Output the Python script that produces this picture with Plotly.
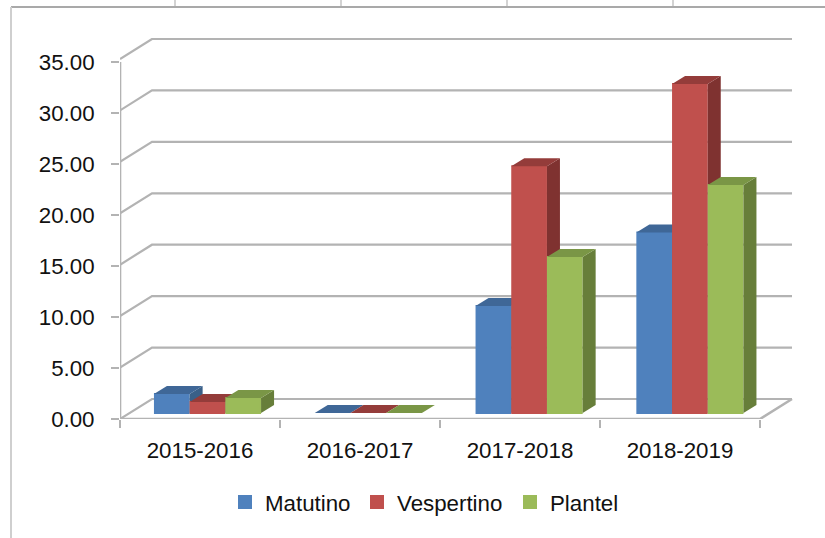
import plotly.graph_objects as go

categories = ["2015-2016", "2016-2017", "2017-2018", "2018-2019"]
matutino = [1.86, 0.0, 10.5, 17.7]
vespertino = [1.08, 0.0, 24.2, 32.25]
plantel = [1.47, 0.0, 15.3, 22.35]
y_ticks = [0, 5, 10, 15, 20, 25, 30, 35]

W, H = 825, 538
L, R, T, B = 120, 793, 38, 419
PX_X = 160.0            # pixels per category
PX_Y = 357 / 35         # pixels per value unit
X0 = -0.5
X_END = 3.5
X_MAX = X0 + (R - L) / PX_X
Y_MAX = (B - T) / PX_Y

WALL_DX = 32 / PX_X     # depth of the chart box
WALL_DY = 20 / PX_Y
WALL_STRETCH = 360 / 357  # back wall is drawn very slightly taller than the front axis
BAR_DX = 13 / PX_X      # depth of a bar
BAR_DY = 8 / PX_Y
BAR_W = 35.7 / PX_X
BAR_PITCH = 160.8 / PX_X
EDGE = 2                # outline in the bar colour, also enlarges the legend swatch
SHIFT_X = 8.7 / PX_X    # bars stand part-way into the floor
BASE_Y = 6 / PX_Y

GRID = "#b3b3b3"
series = [
    ("Matutino", matutino, "#4f81bd", "#3a6088", "#3f6797", "x2", "y2", -1, "legend", 225),
    ("Vespertino", vespertino, "#c0504d", "#7f3230", "#943c3a", "x3", "y3", 0, "legend2", 357),
    ("Plantel", plantel, "#9bbb59", "#677e3a", "#7a9646", "x4", "y4", 1, "legend3", 510),
]

fig = go.Figure()


def line(xs, ys, color=GRID, width=2.2):
    fig.add_trace(go.Scatter(x=xs, y=ys, mode="lines", line=dict(color=color, width=width),
                             showlegend=False, hoverinfo="skip", cliponaxis=False,
                             xaxis="x", yaxis="y"))


# gridlines on the side wall and the back wall
for v in y_ticks:
    back = v * WALL_STRETCH + WALL_DY
    line([X0, X0 + WALL_DX, X_END + WALL_DX], [v * WALL_STRETCH, back, back])
# axis lines and the floor's right edge
line([X0, X0], [0, 35], width=2.6)
line([X0, X_END, X_END + WALL_DX], [0, 0, WALL_DY], width=2.6)

# one overlaid subplot per series, so each series paints over the one on its left
for name, values, front, side, top, xa, ya, k, leg, _ in series:
    xs = [(i - 1.5) * BAR_PITCH + 1.5 + k * BAR_W + SHIFT_X for i in range(len(values))]
    fig.add_trace(go.Bar(x=xs, y=values, base=BASE_Y, width=BAR_W - EDGE / PX_X, name=name,
                         marker=dict(color=front,
                                     line=dict(color=front, width=[EDGE if v > 0 else 0 for v in values])),
                         xaxis=xa, yaxis=ya, hoverinfo="skip", legend=leg))
    for x, v in zip(xs, values):
        xl, xr = x - BAR_W / 2, x + BAR_W / 2
        yb, yt = BASE_Y, BASE_Y + v
        if v > 0:
            fig.add_trace(go.Scatter(
                x=[xr, xr + BAR_DX, xr + BAR_DX, xr, xr],
                y=[yb, yb + BAR_DY, yt + BAR_DY, yt, yb],
                mode="lines", fill="toself", fillcolor=side, line=dict(width=0),
                showlegend=False, hoverinfo="skip", xaxis=xa, yaxis=ya))
        fig.add_trace(go.Scatter(
            x=[xl, xr, xr + BAR_DX, xl + BAR_DX, xl],
            y=[yt, yt, yt + BAR_DY, yt + BAR_DY, yt],
            mode="lines", fill="toself", fillcolor=top, line=dict(width=0),
            showlegend=False, hoverinfo="skip", xaxis=xa, yaxis=ya))

FONT = dict(family="Liberation Sans, Arial, sans-serif", size=22.3, color="#111111")
hidden_x = dict(range=[X0, X_MAX], visible=False, overlaying="x", fixedrange=True)
hidden_y = dict(range=[0, Y_MAX], visible=False, overlaying="y", fixedrange=True)


def px(x):
    return (x - L) / (R - L)


def py(y):
    return (B - y) / (B - T)


def frame(x0, y0, x1, y1, color, width):
    return dict(type="line", xref="paper", yref="paper", x0=px(x0), y0=py(y0), x1=px(x1), y1=py(y1),
                line=dict(color=color, width=width), layer="below")


shapes = [
    frame(11, 7, 825, 7, "#8c8c8c", 1.6),
    frame(11, 7, 11, 538, "#cfcfcf", 2),
    frame(175, 0, 175, 6, "#c8c8c8", 1.6),
    frame(341, 0, 341, 6, "#c8c8c8", 1.6),
    frame(507, 0, 507, 6, "#c8c8c8", 1.6),
    frame(673, 0, 673, 6, "#c8c8c8", 1.6),
]


def legend_at(x_px):
    return dict(orientation="h", x=px(x_px), y=py(481), xanchor="left", yanchor="top",
                font=FONT, bgcolor="rgba(0,0,0,0)")


fig.update_layout(
    width=W, height=H, autosize=False,
    margin=dict(l=L, r=W - R, t=T, b=H - B, pad=0),
    paper_bgcolor="white", plot_bgcolor="rgba(0,0,0,0)",
    barmode="overlay", font=FONT, shapes=shapes,
    xaxis=dict(range=[X0, X_MAX], tickmode="array", tickvals=list(range(4)), ticktext=categories,
               ticks="", showgrid=False, zeroline=False, showline=False, ticklabelstandoff=16,
               minor=dict(tickmode="array", tickvals=[-0.5, 0.5, 1.5, 2.5, 3.5], ticks="outside",
                          ticklen=8, tickwidth=2, tickcolor=GRID, showgrid=False),
               fixedrange=True, tickfont=FONT),
    yaxis=dict(range=[0, Y_MAX], tickmode="array", tickvals=y_ticks,
               ticktext=[f"{v:.2f}" for v in y_ticks], ticks="outside", ticklen=8, tickwidth=2,
               tickcolor=GRID, showgrid=False, zeroline=False, showline=False, ticklabelstandoff=12,
               fixedrange=True, tickfont=FONT),
    xaxis2=hidden_x, yaxis2=hidden_y,
    xaxis3=hidden_x, yaxis3=hidden_y,
    xaxis4=hidden_x, yaxis4=hidden_y,
    legend=legend_at(series[0][9]),
    legend2=legend_at(series[1][9]),
    legend3=legend_at(series[2][9]),
)

fig.write_html("out.html", config=dict(displayModeBar=False),
               post_script="document.body.style.margin='0';")
